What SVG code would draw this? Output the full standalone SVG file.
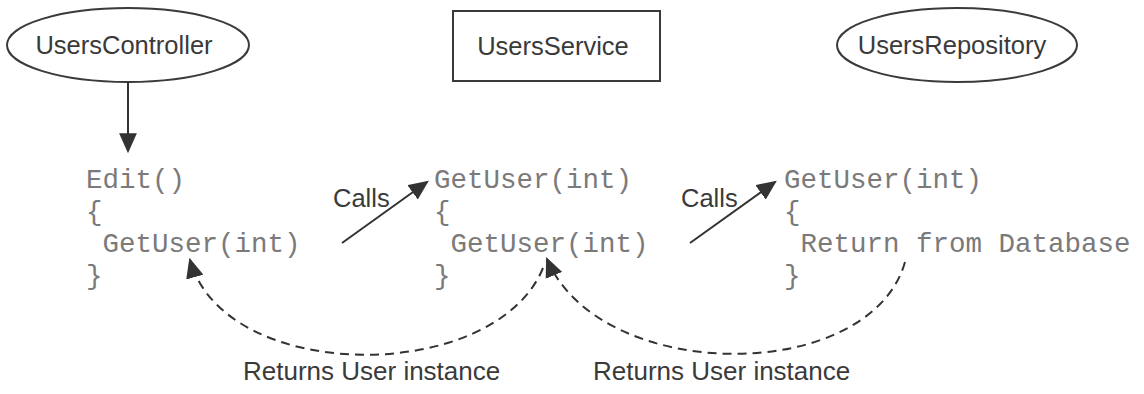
<svg xmlns="http://www.w3.org/2000/svg" width="1144" height="394" viewBox="0 0 1144 394">
  <style>
    .node { fill: #ffffff; stroke: #3a3a3a; stroke-width: 2; }
    .label { font-family: "Liberation Sans", Arial, sans-serif; font-size: 25.5px; fill: #3a3a3a; }
    .lbl2 { font-family: "Liberation Sans", Arial, sans-serif; font-size: 26px; fill: #3a3a3a; }
    .code { font-family: "Liberation Mono", "Courier New", monospace; font-size: 27.5px; fill: #7a7a7a; }
    .conn { fill: none; stroke: #333333; stroke-width: 2; }
    .dash { stroke-dasharray: 9 6; }
  </style>
  <defs>
    <marker id="head" markerUnits="userSpaceOnUse" markerWidth="20" markerHeight="18" viewBox="0 0 18 16" refX="16" refY="8" orient="auto">
      <path d="M0 0 L18 8 L0 16 z" fill="#333333"/>
    </marker>
  </defs>
  <rect width="1144" height="394" fill="#ffffff"/>

  <g id="UsersController">
    <ellipse class="node" cx="128" cy="45" rx="121" ry="37"/>
    <text class="label" x="124" y="54" text-anchor="middle">UsersController</text>
  </g>
  <g id="UsersService">
    <rect class="node" x="453" y="11" width="207" height="70"/>
    <text class="label" x="553" y="55" text-anchor="middle">UsersService</text>
  </g>
  <g id="UsersRepository">
    <ellipse class="node" cx="957" cy="45" rx="120" ry="37"/>
    <text class="label" x="952" y="54" text-anchor="middle">UsersRepository</text>
  </g>

  <g id="EditCode">
    <text class="code" x="86" y="188">Edit()</text>
    <text class="code" x="86" y="220">{</text>
    <text class="code" x="102.5" y="252">GetUser(int)</text>
    <text class="code" x="86" y="284">}</text>
  </g>
  <g id="ServiceCode">
    <text class="code" x="434" y="188">GetUser(int)</text>
    <text class="code" x="434" y="220">{</text>
    <text class="code" x="450.5" y="252">GetUser(int)</text>
    <text class="code" x="434" y="284">}</text>
  </g>
  <g id="RepositoryCode">
    <text class="code" x="784" y="188">GetUser(int)</text>
    <text class="code" x="784" y="220">{</text>
    <text class="code" x="800.5" y="252">Return from Database</text>
    <text class="code" x="784" y="284">}</text>
  </g>

  <g id="connectors">
    <line class="conn" x1="128" y1="82" x2="128" y2="151" marker-end="url(#head)"/>
    <line class="conn" x1="342" y1="243" x2="427" y2="182" marker-end="url(#head)"/>
    <line class="conn" x1="690" y1="243" x2="775" y2="182" marker-end="url(#head)"/>
    <path class="conn dash" d="M543 268 C495 385 225 385 190 260" marker-end="url(#head)"/>
    <path class="conn dash" d="M905 262 C870 385 600 385 547 259" marker-end="url(#head)"/>
  </g>

  <g id="labels">
    <text class="label" x="333" y="207">Calls</text>
    <text class="label" x="681" y="207">Calls</text>
    <text class="lbl2" x="243" y="380">Returns User instance</text>
    <text class="lbl2" x="593" y="380">Returns User instance</text>
  </g>
</svg>
